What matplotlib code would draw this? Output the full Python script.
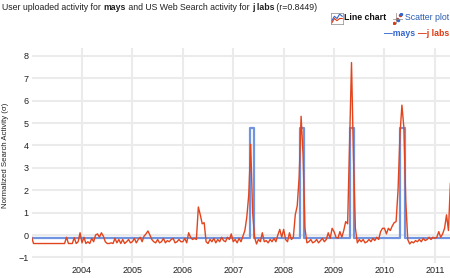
import numpy as np
import matplotlib.pyplot as plt

plt.rcParams['font.family'] = ['Liberation Sans', 'DejaVu Sans']

# biweekly samples of "j labs" search activity, starting Jan 2003
jlabs_2003 = [-0.1, -0.38, -0.38, -0.38, -0.38, -0.38, -0.38, -0.38, -0.38, -0.38,
              -0.38, -0.38, -0.38, -0.38, -0.38, -0.38, -0.38, -0.38, -0.1, -0.38,
              -0.38, -0.38, -0.12, -0.38, -0.3, 0.1]
jlabs_2004 = [-0.35, -0.1, -0.38, -0.3, -0.38, -0.15, -0.3, 0.0, 0.05, -0.1,
              0.1, -0.05, -0.3, -0.38, -0.38, -0.35, -0.38, -0.15, -0.35, -0.2,
              -0.38, -0.2, -0.38, -0.3, -0.2, -0.35]
jlabs_2005 = [-0.3, -0.15, -0.35, -0.2, -0.1, -0.3, -0.05, 0.05, 0.18, 0.0,
              -0.2, -0.3, -0.35, -0.2, -0.35, -0.3, -0.15, -0.35, -0.25, -0.3,
              -0.2, -0.15, -0.35, -0.3, -0.2, -0.3]
jlabs_2006 = [-0.3, -0.15, -0.35, 0.1, -0.1, -0.2, -0.15, -0.2, 1.25, 0.9,
              0.5, 0.55, -0.3, -0.38, -0.2, -0.3, -0.15, -0.35, -0.2, -0.3,
              -0.1, -0.25, -0.3, -0.1, -0.2, 0.05]
jlabs_2007 = [-0.3, -0.2, -0.35, -0.15, -0.3, -0.05, 0.2, 0.8, 1.8, 4.05,
              1.0, -0.1, -0.4, -0.2, -0.3, 0.1, -0.3, -0.25, -0.35, -0.2,
              -0.3, -0.15, -0.3, 0.0, 0.25, -0.1]
jlabs_2008 = [0.25, -0.2, -0.3, 0.1, -0.2, -0.1, 0.9, 1.3, 2.6, 5.3,
              3.6, 0.3, -0.35, -0.3, -0.2, -0.35, -0.3, -0.2, -0.35, -0.25,
              -0.15, -0.3, -0.2, 0.1, -0.15, 0.3]
jlabs_2009 = [0.15, -0.1, -0.15, 0.15, -0.1, 0.2, 0.6, 0.5, 4.0, 7.7,
              3.5, 0.3, -0.35, -0.2, -0.3, -0.2, -0.35, -0.3, -0.2, -0.3,
              -0.15, -0.25, -0.1, -0.2, 0.15, 0.3]
jlabs_2010 = [0.3, 0.05, 0.3, 0.2, 0.4, 0.55, 0.6, 2.0, 4.5, 5.8,
              4.8, 1.5, -0.2, -0.4, -0.3, -0.35, -0.25, -0.3, -0.2, -0.3,
              -0.15, -0.25, -0.2, -0.1, -0.2, -0.1]
jlabs_2011 = [-0.15, -0.1, 0.15, -0.1, 0.05, 0.3, 0.9, 0.2, 2.3]

# "mays" uploads: flat baseline with yearly plateaus
mays_base = -0.15
mays_peak = 4.8
mays_peak_start = [2007.33, 2008.32, 2009.31, 2010.31]
mays_peak_end = [2007.41, 2008.41, 2009.39, 2010.40]
mays_first, mays_last = 2003.0, 2011.31

years = [2004, 2005, 2006, 2007, 2008, 2009, 2010, 2011]
yticks = [-1, 0, 1, 2, 3, 4, 5, 6, 7, 8]

jlabs = (jlabs_2003 + jlabs_2004 + jlabs_2005 + jlabs_2006 + jlabs_2007
         + jlabs_2008 + jlabs_2009 + jlabs_2010 + jlabs_2011)
jlabs_dates = 2003.0 + np.arange(len(jlabs)) / 26.0

mays_x = [mays_first]
mays_y = [mays_base]
for s, e in zip(mays_peak_start, mays_peak_end):
    mays_x += [s, s, e, e]
    mays_y += [mays_base, mays_peak, mays_peak, mays_base]
mays_x.append(mays_last)
mays_y.append(mays_base)

fig = plt.figure(figsize=(4.5, 2.78), dpi=100)
ax = fig.add_axes([31.6 / 450, 15 / 278, 1 - 31.6 / 450, 215 / 278])

ax.plot(mays_x, mays_y, color='#7094e0', lw=1.6, solid_joinstyle='round', zorder=2)
ax.plot(jlabs_dates, jlabs, color='#e2441d', lw=1.0, zorder=3)

ax.set_xlim(2003.0, 2011.30)
ax.set_ylim(-1.25, 8.35)
ax.set_xticks(years)
ax.set_xticklabels([str(y) for y in years])
ax.set_yticks(yticks)
ax.grid(True, color='#ebebeb', lw=1.5)
ax.set_axisbelow(True)
for sp in ax.spines.values():
    sp.set_visible(False)
ax.tick_params(length=0, labelsize=6.5, colors='#222222', pad=2)
ax.set_ylabel('Normalized Search Activity (σ)', fontsize=5.6, color='#222222', labelpad=7)

# title with bold fragments
parts = [("User uploaded activity for ", 'normal'), ("mays", 'bold'),
         (" and US Web Search activity for ", 'normal'), ("j labs", 'bold'),
         (" (r=0.8449)", 'normal')]
prev = fig.text(2 / 450, 1 - 12 / 278, parts[0][0], fontsize=6.3, va='bottom', color='#222222')
for txt, w in parts[1:]:
    prev = ax.annotate(txt, xy=(1, 0), xycoords=prev, va='bottom', ha='left',
                       fontsize=6.3, fontweight=w, color='#222222', annotation_clip=False)

# legend area
fig.text(386 / 450, 1 - 18 / 278, "Line chart", fontsize=6.3, fontweight='bold',
         ha='right', va='center', color='#111111')
fig.text(449 / 450, 1 - 18 / 278, "Scatter plot", fontsize=6.3,
         ha='right', va='center', color='#2a5db0')
fig.text(415 / 450, 1 - 33 / 278, "\u2014mays", fontsize=6.3, fontweight='bold',
         ha='right', va='center', color='#3366cc')
fig.text(449 / 450, 1 - 33 / 278, "\u2014j labs", fontsize=6.3, fontweight='bold',
         ha='right', va='center', color='#dc3912')

# small icons
ic1 = fig.add_axes([331 / 450, 1 - 24 / 278, 12 / 450, 11 / 278])
ic1.plot([0, 1, 2, 3, 4], [1, 3, 2, 4, 3], color='#3366cc', lw=0.8)
ic1.plot([0, 1, 2, 3, 4], [0, 2, 1, 2, 2], color='#dc3912', lw=0.8)
ic1.set_xlim(-0.3, 4.3)
ic1.set_ylim(-0.5, 4.5)
ic1.set_xticks([])
ic1.set_yticks([])
for sp in ic1.spines.values():
    sp.set_color('#888888')
    sp.set_linewidth(0.5)
ic2 = fig.add_axes([393 / 450, 1 - 24 / 278, 10 / 450, 11 / 278])
ic2.plot([0.3, 1.2, 2.0], [0.4, 1.5, 2.4], 'o', color='#dc3912', ms=1.5)
ic2.plot([1.6, 2.4], [1.0, 2.8], 'o', color='#3366cc', ms=1.5)
ic2.axhline(1.4, color='#888888', lw=0.5)
ic2.axvline(1.0, color='#888888', lw=0.5)
ic2.set_xlim(0, 3)
ic2.set_ylim(0, 3)
ic2.axis('off')

fig.savefig('out.png', dpi=100)
